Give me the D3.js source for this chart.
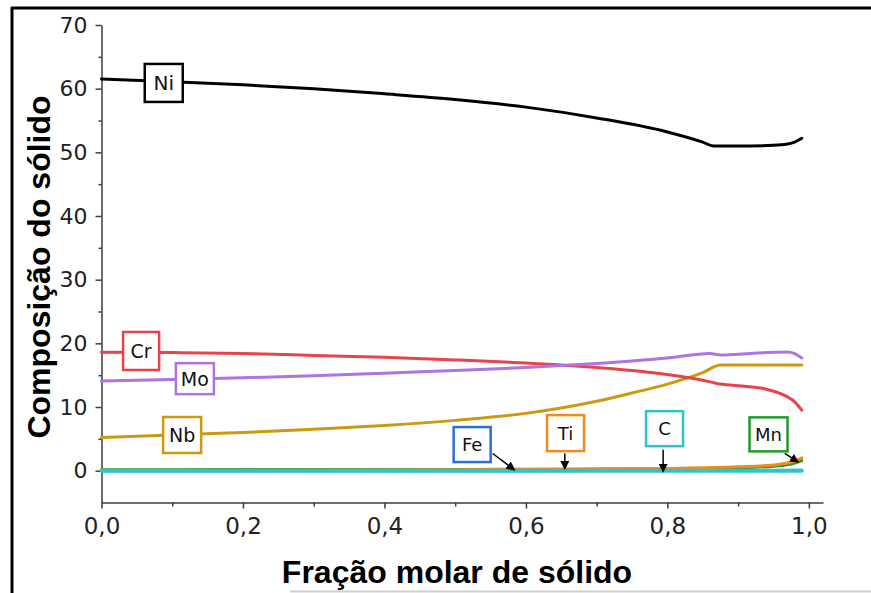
<!DOCTYPE html>
<html>
  <head>
    <meta charset="utf-8" />
    <title>Composição do sólido</title>
    <script src="https://d3js.org/d3.v7.min.js"></script>
    <style>
      body { margin: 0; background: #fff; }
      svg { display: block; }
    </style>
  </head>
  <body>
    <script>
      // fraction of solid (x) and composition of each element (y)
      const niFrac = [0, 0.1, 0.2, 0.3, 0.4, 0.5, 0.6, 0.7, 0.8, 0.85, 0.865, 0.9, 0.95, 0.97, 0.98, 0.99];
      const niVals = [61.5, 61.1, 60.6, 60.0, 59.2, 58.3, 57.1, 55.4, 53.2, 51.6, 51.0, 51.0, 51.1, 51.3, 51.6, 52.2];

      const crFrac = [0, 0.1, 0.2, 0.3, 0.4, 0.5, 0.6, 0.7, 0.8, 0.85, 0.87, 0.9, 0.94, 0.96, 0.98, 0.99];
      const crVals = [18.6, 18.55, 18.4, 18.1, 17.8, 17.4, 16.9, 16.2, 15.1, 14.2, 13.7, 13.35, 12.8, 12.1, 10.8, 9.5];

      const moFrac = [0, 0.1, 0.2, 0.3, 0.4, 0.5, 0.6, 0.7, 0.8, 0.86, 0.875, 0.9, 0.95, 0.97, 0.98, 0.99];
      const moVals = [14.1, 14.3, 14.6, 14.9, 15.3, 15.75, 16.2, 16.85, 17.7, 18.4, 18.15, 18.3, 18.6, 18.65, 18.4, 17.7];

      const nbFrac = [0, 0.1, 0.2, 0.3, 0.4, 0.5, 0.6, 0.7, 0.75, 0.8, 0.85, 0.875, 0.9, 0.95, 0.99];
      const nbVals = [5.2, 5.6, 6.0, 6.5, 7.1, 7.9, 9.0, 10.9, 12.2, 13.6, 15.4, 16.6, 16.6, 16.6, 16.6];

      const feFrac = [0, 0.5, 0.9, 0.99];
      const feVals = [0.0, 0.0, 0.02, 0.05];

      const mnFrac = [0, 0.5, 0.8, 0.9, 0.95, 0.98, 0.99];
      const mnVals = [0.15, 0.2, 0.3, 0.45, 0.7, 1.2, 1.6];

      const tiFrac = [0, 0.2, 0.4, 0.5, 0.6, 0.7, 0.8, 0.9, 0.95, 0.97, 0.98, 0.99];
      const tiVals = [0.05, 0.08, 0.12, 0.15, 0.2, 0.25, 0.35, 0.6, 0.9, 1.2, 1.5, 2.0];

      const cFrac = [0, 0.5, 0.99];
      const cVals = [0, 0, 0];

      const xTicks = [0, 0.2, 0.4, 0.6, 0.8, 1.0];
      const xMinor = [0.1, 0.3, 0.5, 0.7, 0.9];
      const yTicks = [0, 10, 20, 30, 40, 50, 60, 70];
      const yMinor = [5, 15, 25, 35, 45, 55, 65];

      const series = [
        { name: "Fe", color: "#2b6fd6", w: 3, fr: feFrac, v: feVals },
        { name: "Mn", color: "#1f9a2c", w: 3, fr: mnFrac, v: mnVals },
        { name: "Ti", color: "#f28a1c", w: 3, fr: tiFrac, v: tiVals },
        { name: "C", color: "#2cc6c9", w: 4, fr: cFrac, v: cVals },
        { name: "Nb", color: "#cc9a12", w: 3, fr: nbFrac, v: nbVals },
        { name: "Cr", color: "#e8434a", w: 3, fr: crFrac, v: crVals },
        { name: "Mo", color: "#ad74e2", w: 3, fr: moFrac, v: moVals },
        { name: "Ni", color: "#000000", w: 3, fr: niFrac, v: niVals }
      ];

      // label boxes (centre in data units) and arrows pointing at the curves
      const labels = [
        { name: "Ni", fx: 0.088, fy: 60.9, bw: 38, bh: 38, fs: 20, color: "#000000" },
        { name: "Cr", fx: 0.056, fy: 18.8, bw: 36, bh: 38, fs: 19, color: "#e8434a" },
        { name: "Mo", fx: 0.132, fy: 14.45, bw: 38, bh: 31, fs: 19, color: "#ad74e2" },
        { name: "Nb", fx: 0.114, fy: 5.6, bw: 38, bh: 36, fs: 19, color: "#cc9a12" },
        { name: "Fe", fx: 0.524, fy: 4.1, bw: 37, bh: 35, fs: 18, color: "#2b6fd6" },
        { name: "Ti", fx: 0.656, fy: 5.9, bw: 37, bh: 36, fs: 18, color: "#f28a1c" },
        { name: "C", fx: 0.796, fy: 6.6, bw: 37, bh: 35, fs: 18, color: "#2cc6c9" },
        { name: "Mn", fx: 0.943, fy: 5.7, bw: 38, bh: 34, fs: 18, color: "#1f9a2c" }
      ];
      const arrows = [
        { x1: 0.553, y1: 2.7, x2: 0.584, y2: 0.1 },
        { x1: 0.655, y1: 2.7, x2: 0.655, y2: 0.25 },
        { x1: 0.794, y1: 3.3, x2: 0.794, y2: -0.2 },
        { x1: 0.966, y1: 2.7, x2: 0.985, y2: 1.35 }
      ];

      const width = 871, height = 593;
      const svg = d3.select("body").append("svg")
        .attr("width", width)
        .attr("height", height);

      // frame of the cropped figure
      svg.append("line").attr("x1", 11).attr("x2", width).attr("y1", 8).attr("y2", 8)
        .attr("stroke", "#000").attr("stroke-width", 3);
      svg.append("line").attr("x1", 12).attr("x2", 12).attr("y1", 7).attr("y2", height)
        .attr("stroke", "#000").attr("stroke-width", 3);
      svg.append("line").attr("x1", 290).attr("x2", width).attr("y1", 591.5).attr("y2", 591.5)
        .attr("stroke", "#cfcfcf").attr("stroke-width", 2);

      const x = d3.scaleLinear().domain([0, 1.02]).range([101.5, 823]);
      const y = d3.scaleLinear().domain([-5, 70]).range([502.5, 25]);

      const fmt = (d) => d3.format(".1f")(d).replace(".", ",");
      const axisColor = "#3d3d3d";

      // x axis
      const gx = svg.append("g").attr("transform", `translate(0,${y(-5)})`)
        .call(d3.axisBottom(x).tickValues(xTicks).tickFormat(fmt).tickSize(6).tickSizeOuter(0).tickPadding(9));
      svg.append("g").attr("transform", `translate(0,${y(-5)})`)
        .call(d3.axisBottom(x).tickValues(xMinor).tickFormat("").tickSize(4))
        .call((g) => g.select(".domain").remove());

      // y axis
      const gy = svg.append("g").attr("transform", `translate(${x(0)},0)`)
        .call(d3.axisLeft(y).tickValues(yTicks).tickSize(6).tickSizeOuter(0).tickPadding(8));
      svg.append("g").attr("transform", `translate(${x(0)},0)`)
        .call(d3.axisLeft(y).tickValues(yMinor).tickFormat("").tickSize(3))
        .call((g) => g.select(".domain").remove());

      svg.selectAll(".domain, .tick line")
        .attr("stroke", axisColor).attr("stroke-width", 1.5);
      gx.selectAll("text").attr("font-family", "DejaVu Sans").attr("font-size", 23).attr("fill", "#222");
      gy.selectAll("text").attr("font-family", "DejaVu Sans").attr("font-size", 22).attr("fill", "#222");

      // axis titles
      svg.append("text")
        .attr("x", 457).attr("y", 583)
        .attr("text-anchor", "middle")
        .attr("font-family", "Liberation Sans, Arial, sans-serif")
        .attr("font-weight", "bold").attr("font-size", 32)
        .text("Fração molar de sólido");
      svg.append("text")
        .attr("transform", "translate(50,267) rotate(-90)")
        .attr("text-anchor", "middle")
        .attr("font-family", "Liberation Sans, Arial, sans-serif")
        .attr("font-weight", "bold").attr("font-size", 32)
        .text("Composição do sólido");

      // curves
      const line = d3.line()
        .x((d) => x(d[0]))
        .y((d) => y(d[1]))
        .curve(d3.curveMonotoneX);

      svg.append("g").selectAll("path")
        .data(series)
        .join("path")
        .attr("d", (s) => line(s.fr.map((f, i) => [f, s.v[i]])))
        .attr("fill", "none")
        .attr("stroke", (s) => s.color)
        .attr("stroke-width", (s) => s.w)
        .attr("stroke-linejoin", "round")
        .attr("stroke-linecap", "round");

      // arrows
      svg.append("defs").append("marker")
        .attr("id", "head")
        .attr("viewBox", "0 0 10 10")
        .attr("refX", 9).attr("refY", 5)
        .attr("markerWidth", 6).attr("markerHeight", 6)
        .attr("orient", "auto")
        .append("path").attr("d", "M0,0 L10,5 L0,10 z").attr("fill", "#000");

      svg.append("g").selectAll("line")
        .data(arrows)
        .join("line")
        .attr("x1", (d) => x(d.x1)).attr("y1", (d) => y(d.y1))
        .attr("x2", (d) => x(d.x2)).attr("y2", (d) => y(d.y2))
        .attr("stroke", "#000").attr("stroke-width", 1.5)
        .attr("marker-end", "url(#head)");

      // label boxes
      const lab = svg.append("g").selectAll("g")
        .data(labels)
        .join("g")
        .attr("transform", (d) => `translate(${x(d.fx)},${y(d.fy)})`);
      lab.append("rect")
        .attr("x", (d) => -d.bw / 2).attr("y", (d) => -d.bh / 2)
        .attr("width", (d) => d.bw).attr("height", (d) => d.bh)
        .attr("fill", "#fff")
        .attr("stroke", (d) => d.color)
        .attr("stroke-width", 2.5);
      lab.append("text")
        .attr("text-anchor", "middle")
        .attr("dy", "0.36em")
        .attr("font-family", "DejaVu Sans")
        .attr("font-size", (d) => d.fs)
        .attr("fill", "#111")
        .text((d) => d.name);
    </script>
  </body>
</html>
